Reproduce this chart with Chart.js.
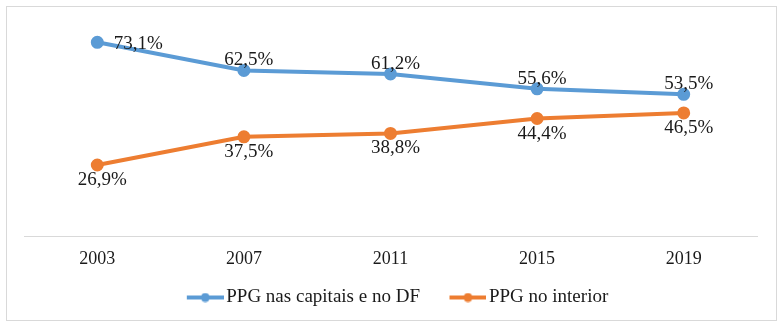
<!DOCTYPE html>
<html>
<head>
<meta charset="utf-8">
<script src="https://cdn.jsdelivr.net/npm/chart.js@4"></script>
<style>
  body { margin: 0; background: #fff; }
  #box {
    position: absolute; left: 6px; top: 6px;
    width: 771px; height: 315px;
    box-sizing: border-box;
    border: 1px solid #d9d9d9;
  }
  #box canvas { display: block; }
</style>
</head>
<body>
<div id="box"><canvas id="grafico" width="769" height="313"></canvas></div>
<script>
const anos = ['2003', '2007', '2011', '2015', '2019'];
const capitais = [73.1, 62.5, 61.2, 55.6, 53.5];
const interior = [26.9, 37.5, 38.8, 44.4, 46.5];

const AZUL = '#5b9bd5';
const LARANJA = '#ed7d31';
const FONTE = "'Liberation Serif', 'Times New Roman', serif";

Chart.defaults.font.family = FONTE;
Chart.defaults.font.size = 18;
Chart.defaults.color = '#1a1a1a';

// marcador da legenda: linha com bolinha, com folga transparente a esquerda
function marcador(cor) {
    const folga = 21;
    const c = document.createElement('canvas');
    c.width = folga + 37; c.height = 10;
    const g = c.getContext('2d');
    g.strokeStyle = cor;
    g.lineWidth = 4;
    g.beginPath();
    g.moveTo(folga, 5); g.lineTo(folga + 37, 5);
    g.stroke();
    g.fillStyle = cor;
    g.beginPath();
    g.arc(folga + 18.5, 5, 4.5, 0, Math.PI * 2);
    g.fill();
    return c;
}

// rotulos com virgula decimal
const rotulos = {
    id: 'rotulos',
    afterDatasetsDraw(chart) {
        const ctx = chart.ctx;
        ctx.save();
        ctx.font = '19px ' + FONTE;
        ctx.fillStyle = '#1a1a1a';
        ctx.textAlign = 'center';
        ctx.textBaseline = 'middle';
        chart.data.datasets.forEach((ds, i) => {
            const meta = chart.getDatasetMeta(i);
            meta.data.forEach((pt, j) => {
                const txt = ds.data[j].toFixed(1).replace('.', ',') + '%';
                let x = pt.x, y = pt.y;
                if (i === 0) {
                    if (j === 0) { x += 41; y += 2; } else { x += 5; y -= 10; }
                } else {
                    x += 5; y += 15;
                }
                ctx.fillText(txt, x, y);
            });
        });
        ctx.restore();
    }
};

new Chart(document.getElementById('grafico'), {
    type: 'line',
    data: {
        labels: anos,
        datasets: [{
            label: 'PPG nas capitais e no DF',
            data: capitais,
            borderColor: AZUL,
            backgroundColor: AZUL,
            borderWidth: 4,
            pointRadius: 4.5,
            tension: 0
        }, {
            label: 'PPG no interior',
            data: interior,
            borderColor: LARANJA,
            backgroundColor: LARANJA,
            borderWidth: 4,
            pointRadius: 4.5,
            tension: 0
        }]
    },
    options: {
        responsive: false,
        animation: false,
        layout: { padding: { left: 17, right: 19, top: 17, bottom: 3 } },
        scales: {
            x: {
                offset: true,
                grid: { display: false, drawTicks: false },
                border: { display: true, color: '#d9d9d9', width: 1 },
                ticks: { color: '#1a1a1a', padding: 12, font: { family: FONTE, size: 18 } }
            },
            y: {
                display: false,
                min: 0,
                max: 80
            }
        },
        plugins: {
            legend: {
                position: 'bottom',
                labels: {
                    usePointStyle: true,
                    pointStyleWidth: 44,
                    padding: 6,
                    color: '#1a1a1a',
                    font: { family: FONTE, size: 19 },
                    generateLabels(chart) {
                        return chart.data.datasets.map((ds, i) => ({
                            text: ds.label + (i === 0 ? '  ' : ''),
                            pointStyle: marcador(ds.borderColor),
                            fillStyle: ds.borderColor,
                            strokeStyle: ds.borderColor,
                            lineWidth: 0,
                            fontColor: '#1a1a1a',
                            hidden: false,
                            datasetIndex: i
                        }));
                    }
                }
            },
            tooltip: { enabled: false }
        }
    },
    plugins: [rotulos]
});
</script>
</body>
</html>
